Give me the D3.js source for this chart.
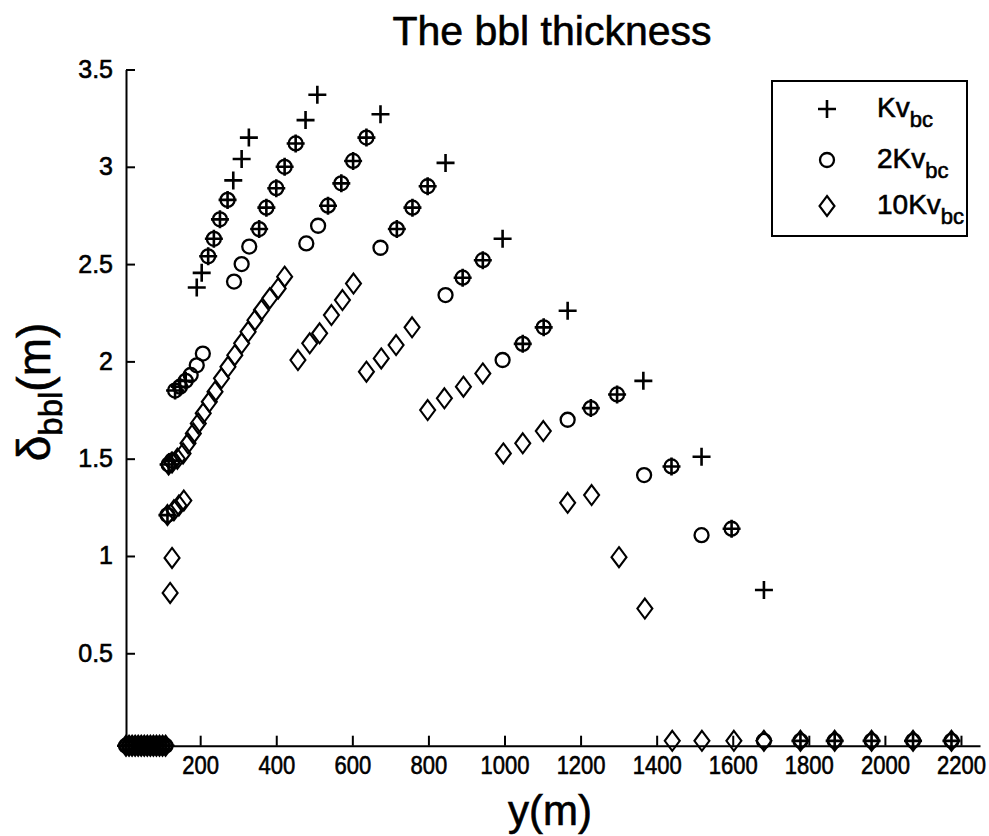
<!DOCTYPE html>
<html>
<head>
<meta charset="utf-8">
<script src="https://cdn.jsdelivr.net/npm/d3@7/dist/d3.min.js"></script>
<style>
  body { margin: 0; background: #fff; }
  svg { display: block; font-family: "Liberation Sans", Arial, Helvetica, sans-serif; }
  text { stroke: #000; stroke-width: 0.6px; }
</style>
</head>
<body>
<script>
// cross-shore position y (m) and bbl thickness (m), one pair of arrays per run
var yK = [5, 13, 21, 29, 37, 45, 53, 61, 69, 77, 85, 93, 101, 109,
  114, 117, 126, 134, 147, 162,
  191, 204, 221, 236, 252, 272, 287, 309, 328,
  355, 374, 400, 422, 451, 477, 508,
  536, 571, 602, 637, 674,
  717, 758, 798, 845,
  890, 943, 995,
  1048, 1103, 1166,
  1227, 1296, 1365,
  1439, 1518,
  1597, 1682,
  1778, 1868, 1965, 2074, 2175];
var dK = [0.025, 0.025, 0.025, 0.025, 0.025, 0.025, 0.025, 0.025, 0.025, 0.025, 0.025, 0.025, 0.025, 0.025,
  1.21, 1.47, 1.49, 1.85, 1.87, 1.90,
  2.38, 2.455, 2.54, 2.63, 2.73, 2.83, 2.93, 3.04, 3.15,
  2.68, 2.79, 2.89, 3.0, 3.12, 3.24, 3.37,
  2.80, 2.915, 3.03, 3.15, 3.27,
  2.68, 2.79, 2.90, 3.02,
  2.43, 2.52, 2.63,
  2.09, 2.175, 2.26,
  1.76, 1.83, 1.90,
  1.46, 1.51,
  1.14, 0.825,
  0.05, 0.05, 0.05, 0.05, 0.05];

var y2K = [5, 13, 21, 29, 37, 45, 53, 61, 69, 77, 85, 93, 101, 109,
  114, 117, 126, 134, 147, 162, 175, 191, 207,
  221, 236, 252, 272,
  289, 309, 329, 355, 374, 400, 422, 451,
  479, 510, 536, 571, 602, 637,
  674, 717, 758, 798,
  845, 890, 943,
  995, 1048, 1103,
  1166, 1227, 1296,
  1367, 1439,
  1518, 1597,
  1682, 1778, 1868, 1965, 2074, 2175];
var d2K = [0.025, 0.025, 0.025, 0.025, 0.025, 0.025, 0.025, 0.025, 0.025, 0.025, 0.025, 0.025, 0.025, 0.025,
  1.21, 1.47, 1.49, 1.85, 1.87, 1.90, 1.93, 1.98, 2.04,
  2.54, 2.63, 2.73, 2.83,
  2.41, 2.50, 2.59, 2.68, 2.79, 2.89, 3.0, 3.12,
  2.606, 2.697, 2.80, 2.915, 3.03, 3.15,
  2.584, 2.68, 2.79, 2.90,
  2.341, 2.43, 2.52,
  2.007, 2.09, 2.175,
  1.70, 1.76, 1.83,
  1.416, 1.46,
  1.107, 1.14,
  0.05, 0.05, 0.05, 0.05, 0.05, 0.05];

var y10K = [5, 13, 21, 29, 37, 45, 53, 61, 69, 77, 85, 93, 101, 109,
  121, 126, 114, 131, 144, 157,
  117, 126, 140, 155, 168, 182, 195, 208, 224, 239, 256, 273, 291, 309, 326, 344, 361, 383, 405, 422,
  457, 488, 514, 545, 574, 603,
  637, 676, 715, 757,
  798, 842, 892, 943,
  997, 1048, 1102,
  1166, 1229,
  1301, 1369,
  1441, 1519, 1603, 1682, 1778, 1868, 1965, 2074, 2175];
var d10K = [0.025, 0.025, 0.025, 0.025, 0.025, 0.025, 0.025, 0.025, 0.025, 0.025, 0.025, 0.025, 0.025, 0.025,
  0.81, 0.99, 1.21, 1.235, 1.26, 1.285,
  1.47, 1.48, 1.50, 1.527, 1.579, 1.63, 1.681, 1.733, 1.792, 1.844, 1.913, 1.972, 2.032, 2.093, 2.152, 2.212, 2.264, 2.324, 2.375, 2.435,
  2.007, 2.093, 2.144, 2.238, 2.315, 2.40,
  1.947, 2.015, 2.084, 2.175,
  1.75, 1.81, 1.87, 1.938,
  1.527, 1.579, 1.642,
  1.273, 1.313,
  0.994, 0.73,
  0.05, 0.05, 0.05, 0.05, 0.05, 0.05, 0.05, 0.05, 0.05];

var xTicks = [200, 400, 600, 800, 1000, 1200, 1400, 1600, 1800, 2000, 2200];
var yTicks = [0.5, 1, 1.5, 2, 2.5, 3, 3.5];
var legendLead = ["Kv", "2Kv", "10Kv"];

var width = 989, height = 836;
var svg = d3.select("body").append("svg")
  .attr("width", width).attr("height", height);

var x = d3.scaleLinear().domain([5, 2250]).range([126, 980]);
var y = d3.scaleLinear().domain([0.025, 3.5]).range([745.7, 69.5]);

// marker shapes, drawn as open black outlines like the matlab figure
var shapes = {
  plus: "M-9,0H9M0,-9V9",
  circle: d3.symbol(d3.symbolCircle, Math.PI * 49)(),
  diamond: "M0,-10L7.5,0L0,10L-7.5,0Z"
};
var widths = { plus: 2.6, circle: 2.3, diamond: 2.1 };

var series = [
  { xs: yK, ds: dK, shape: "plus" },
  { xs: y2K, ds: d2K, shape: "circle" },
  { xs: y10K, ds: d10K, shape: "diamond" }
];

// axes
var xAxis = d3.axisBottom(x).tickValues(xTicks).tickSizeInner(-10).tickSizeOuter(0).tickPadding(11)
  .tickFormat(function(d) { return String(d); });
var yAxis = d3.axisLeft(y).tickValues(yTicks).tickSizeInner(-9).tickSizeOuter(0).tickPadding(13)
  .tickFormat(function(d) { return String(d); });

var gx = svg.append("g").attr("transform", "translate(0," + y(0.025) + ")").call(xAxis);
var gy = svg.append("g").attr("transform", "translate(" + x(5) + ",0)").call(yAxis);

[gx, gy].forEach(function(g) {
  g.select(".domain").attr("stroke", "#000").attr("stroke-width", 2);
  g.selectAll(".tick line").attr("stroke", "#000").attr("stroke-width", 2);
  g.selectAll(".tick text").attr("fill", "#000").style("font-size", "25px");
});
gx.selectAll(".tick text").attr("transform", "scale(0.88,1)");

// points
series.forEach(function(s) {
  svg.append("g").selectAll("path")
    .data(s.xs.map(function(v, i) { return [v, s.ds[i]]; }))
    .enter().append("path")
    .attr("d", shapes[s.shape])
    .attr("transform", function(d) { return "translate(" + x(d[0]) + "," + y(d[1]) + ")"; })
    .attr("fill", "none")
    .attr("stroke", "#000")
    .attr("stroke-width", widths[s.shape]);
});

// title and axis labels
svg.append("text")
  .attr("x", 552).attr("y", 45)
  .attr("text-anchor", "middle")
  .style("font-size", "41px")
  .text("The bbl thickness");

svg.append("text")
  .attr("x", 550).attr("y", 825)
  .attr("text-anchor", "middle")
  .style("font-size", "42px")
  .text("y(m)");

var yl = svg.append("text")
  .attr("transform", "translate(50,392) rotate(-90)")
  .attr("text-anchor", "middle")
  .style("font-size", "46px");
yl.append("tspan").text("\u03b4");
yl.append("tspan").attr("dy", 12).style("font-size", "33px").text("bbl");
yl.append("tspan").attr("dy", -12).text("(m)");

// legend
var lg = svg.append("g");
lg.append("rect")
  .attr("x", 772).attr("y", 81).attr("width", 195).attr("height", 155)
  .attr("fill", "#fff").attr("stroke", "#000").attr("stroke-width", 2);
var rowsY = [109, 160, 206];
series.forEach(function(s, i) {
  lg.append("path")
    .attr("d", shapes[s.shape])
    .attr("transform", "translate(827," + rowsY[i] + ")")
    .attr("fill", "none").attr("stroke", "#000").attr("stroke-width", widths[s.shape]);
  var t = lg.append("text")
    .attr("x", 877).attr("y", rowsY[i] + 8)
    .style("font-size", "28px");
  t.append("tspan").text(legendLead[i]);
  t.append("tspan").attr("dy", 10).style("font-size", "22px").text("bc");
});
</script>
</body>
</html>
